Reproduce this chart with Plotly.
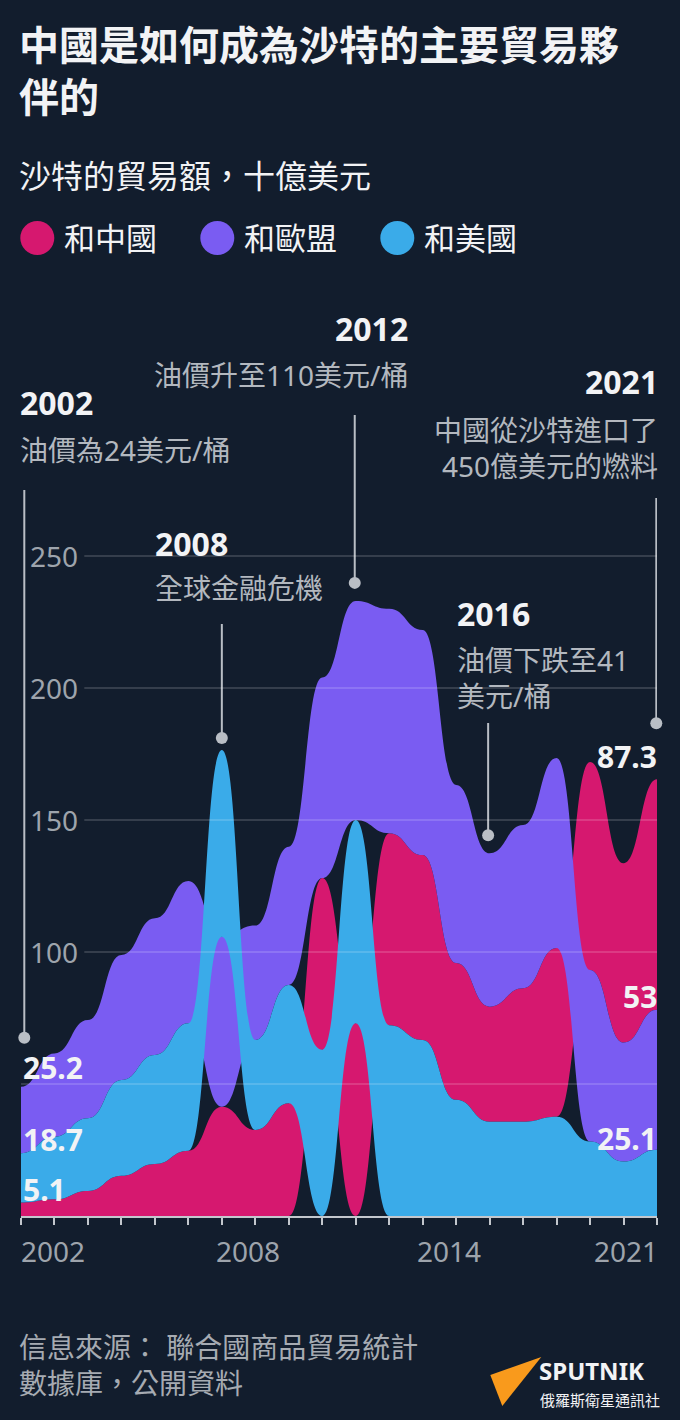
import plotly.graph_objects as go

# ---------------- data ----------------
years = list(range(2002, 2022))
china = [5.1, 6.3, 9.5, 15.2, 19.7, 24.7, 41.4, 32.6, 42.7, 65.0,
         73.0, 72.7, 70.0, 51.8, 43.6, 50.6, 63.9, 78.8, 67.9, 87.3]
eu = [25.2, 31.6, 37.2, 47.4, 51.8, 53.9, 64.4, 43.3, 52.4, 76.0,
      83.0, 85.0, 85.3, 67.5, 58.1, 61.8, 72.0, 65.0, 45.1, 53.0]
us = [18.7, 23.7, 27.5, 36.3, 41.3, 48.3, 70.7, 34.1, 44.8, 63.0,
      77.0, 72.3, 66.7, 44.0, 35.7, 35.7, 37.6, 28.2, 20.6, 25.1]
series_names = ["和中國", "和歐盟", "和美國"]
grid_values = [50, 100, 150, 200, 250]
labelled_grid = [100, 150, 200, 250]
xtick_labels = [2002, 2008, 2014, 2021]

events = [
    dict(year=2002, title="2002", text="油價為24美元/桶", side="left",
         tx=18, title_y=402, text_y=450, line_top=490, gap=49, dx=3.3),
    dict(year=2008, title="2008", text="全球金融危機", side="left",
         tx=153, title_y=543, text_y=588, line_top=624, gap=12, dx=0),
    dict(year=2012, title="2012", text="油價升至110美元/桶", side="right",
         tx=410, title_y=328, text_y=375, line_top=415, gap=18, dx=-1),
    dict(year=2016, title="2016", text="油價下跌至41<br>美元/桶", side="left",
         tx=455, title_y=613, text_y=677.5, line_top=723, gap=18, dx=-1.5),
    dict(year=2021, title="2021", text="中國從沙特進口了<br>450億美元的燃料", side="right",
         tx=660, title_y=382, text_y=448, line_top=498, gap=56, dx=-0.7),
]

# ---------------- style ----------------
BG = "#121d2d"
COLORS = ["#d6186f", "#7a5cf2", "#3aabe9"]
WHITE = "#f2f3f5"
GREY = "#b3b8bf"
AXGREY = "#9ea4ac"
FONT = "Noto Sans, Noto Sans CJK TC, sans-serif"

W, H = 680, 1420
PLOT_L, PLOT_R = 20.7, 656.7
ZERO_Y, PLOT_T = 1216.0, 280.0
PX_PER_UNIT = 2.64
PX_PER_YEAR = (PLOT_R - PLOT_L) / (years[-1] - years[0])
Y_TOP = (ZERO_Y - PLOT_T) / PX_PER_UNIT


def paper_x(px):
    return (px - PLOT_L) / (PLOT_R - PLOT_L)


def paper_y(py):
    return (ZERO_Y - py) / (ZERO_Y - PLOT_T)


def val_at(py):
    return (ZERO_Y - py) / PX_PER_UNIT


# ---------------- per-year ascending stacking ----------------
values = [china, eu, us]
n = len(years)
lower = [[0.0] * n for _ in values]
upper = [[0.0] * n for _ in values]
totals = [0.0] * n
for k in range(n):
    order = sorted(range(len(values)), key=lambda i: values[i][k])
    base = 0.0
    for i in order:
        lower[i][k] = base
        base += values[i][k]
        upper[i][k] = base
    totals[k] = base


def bump_band(xs, top, bot):
    p = [f"M {xs[0]},{top[0]:.3f}"]
    for k in range(1, len(xs)):
        m = (xs[k - 1] + xs[k]) / 2
        p.append(f"C {m},{top[k-1]:.3f} {m},{top[k]:.3f} {xs[k]},{top[k]:.3f}")
    p.append(f"L {xs[-1]},{bot[-1]:.3f}")
    for k in range(len(xs) - 1, 0, -1):
        m = (xs[k - 1] + xs[k]) / 2
        p.append(f"C {m},{bot[k]:.3f} {m},{bot[k-1]:.3f} {xs[k-1]},{bot[k-1]:.3f}")
    p.append("Z")
    return " ".join(p)


fig = go.Figure()
shapes = []
annotations = []

# bands (pink, purple, blue drawn in that order)
for i, col in enumerate(COLORS):
    shapes.append(dict(type="path", xref="x", yref="y", layer="below",
                       path=bump_band(years, upper[i], lower[i]),
                       fillcolor=col, line=dict(width=0)))
    fig.add_trace(go.Scatter(
        x=years, y=[(a + b) / 2 for a, b in zip(upper[i], lower[i])],
        mode="markers", marker=dict(opacity=0, color=col),
        name=series_names[i], showlegend=False,
        hovertext=[f"{series_names[i]} {y}: {v}" for y, v in zip(years, values[i])],
        hoverinfo="text"))

# gridlines on top of areas
for v in grid_values:
    x0 = paper_x(84) if v in labelled_grid else 0
    shapes.append(dict(type="line", xref="x domain", yref="y", x0=x0, x1=1,
                       y0=v, y1=v, layer="above",
                       line=dict(color="rgba(255,255,255,0.2)", width=1.5)))
for v in labelled_grid:
    annotations.append(dict(text=str(v), xref="paper", yref="y", x=paper_x(28),
                            y=v, xanchor="left", yanchor="middle", showarrow=False,
                            font=dict(size=28, color=AXGREY, family=FONT)))

# x tick labels
for yv in xtick_labels:
    if yv == years[0]:
        anc, sh = "left", -2
    elif yv == years[-1]:
        anc, sh = "right", 3
    else:
        anc, sh = "left", -8
    annotations.append(dict(text=str(yv), xref="x", yref="paper", x=yv, xshift=sh,
                            y=paper_y(1251), xanchor=anc, yanchor="middle",
                            showarrow=False,
                            font=dict(size=28, color=AXGREY, family=FONT)))

# end value labels
first_shift = {0: 13.5, 2: 14, 1: 18.7}
last_shift = {2: 11, 1: 13, 0: 23}
for i in range(3):
    annotations.append(dict(text=f"<b>{values[i][0]:g}</b>", xref="x", yref="y",
                            x=years[0], y=upper[i][0], xanchor="left", xshift=0,
                            yanchor="middle", yshift=first_shift[i], showarrow=False,
                            font=dict(size=30, color=WHITE, family=FONT)))
    annotations.append(dict(text=f"<b>{values[i][-1]:g}</b>", xref="x", yref="y",
                            x=years[-1], y=upper[i][-1], xanchor="right", xshift=2,
                            yanchor="middle", yshift=last_shift[i], showarrow=False,
                            font=dict(size=30, color=WHITE, family=FONT)))

# event leader lines, dots and texts
lx, ly, dx_, dy_ = [], [], [], []
for ev in events:
    k = years.index(ev["year"])
    xd = ev["year"] + ev["dx"] / PX_PER_YEAR
    ydot = totals[k] + ev["gap"] / PX_PER_UNIT
    lx += [xd, xd, None]
    ly += [ydot, val_at(ev["line_top"]), None]
    dx_.append(xd)
    dy_.append(ydot)
    annotations.append(dict(text=f"<b>{ev['title']}</b>", xref="paper", yref="paper",
                            x=paper_x(ev["tx"]), y=paper_y(ev["title_y"]),
                            xanchor=ev["side"], yanchor="middle", align=ev["side"],
                            showarrow=False,
                            font=dict(size=32, color=WHITE, family=FONT)))
    annotations.append(dict(text=ev["text"], xref="paper", yref="paper",
                            x=paper_x(ev["tx"]), y=paper_y(ev["text_y"]),
                            xanchor=ev["side"], yanchor="middle", align=ev["side"],
                            showarrow=False,
                            font=dict(size=28, color=GREY, family=FONT)))
fig.add_trace(go.Scatter(x=lx, y=ly, mode="lines", line=dict(color="#b9bec5", width=2),
                         hoverinfo="skip", showlegend=False, cliponaxis=False))
fig.add_trace(go.Scatter(x=dx_, y=dy_, mode="markers",
                         marker=dict(size=12, color="#b9bec5"),
                         hoverinfo="skip", showlegend=False, cliponaxis=False))

# title (one block, two lines), subtitle
annotations.append(dict(text="<b>中國是如何成為沙特的主要貿易夥<br>伴的</b>",
                        xref="paper", yref="paper", align="left",
                        x=paper_x(17), y=paper_y(71), xanchor="left", yanchor="middle",
                        showarrow=False, font=dict(size=40, color=WHITE, family=FONT)))
annotations.append(dict(text="沙特的貿易額，十億美元", xref="paper", yref="paper",
                        x=paper_x(17), y=paper_y(176), xanchor="left", yanchor="middle",
                        showarrow=False, font=dict(size=32, color=WHITE, family=FONT)))

# legend
legend_x = [20, 200, 380]
for i, name in enumerate(series_names):
    x0 = legend_x[i]
    shapes.append(dict(type="circle", xref="paper", yref="paper",
                       x0=paper_x(x0), x1=paper_x(x0 + 34),
                       y0=paper_y(255), y1=paper_y(221),
                       fillcolor=COLORS[i], line=dict(width=0), layer="above"))
    annotations.append(dict(text=name, xref="paper", yref="paper",
                            x=paper_x(x0 + 42), y=paper_y(238), xanchor="left",
                            yanchor="middle", showarrow=False,
                            font=dict(size=31, color=WHITE, family=FONT)))

# footer
annotations.append(dict(text="信息來源： 聯合國商品貿易統計<br>數據庫，公開資料",
                        xref="paper", yref="paper", x=paper_x(17), y=paper_y(1364.5),
                        xanchor="left", yanchor="middle", align="left", showarrow=False,
                        font=dict(size=28, color="#a6abb2", family=FONT)))
# sputnik logo
tri = [(490, 1375), (541, 1357), (502, 1406)]
path = "M " + " L ".join(f"{paper_x(a):.5f},{paper_y(b):.5f}" for a, b in tri) + " Z"
shapes.append(dict(type="path", xref="paper", yref="paper", path=path,
                   fillcolor="#f99a1c", line=dict(width=0), layer="above"))
annotations.append(dict(text="<b>SPUTNIK</b>", xref="paper", yref="paper",
                        x=paper_x(537), y=paper_y(1370), xanchor="left", yanchor="middle",
                        showarrow=False, font=dict(size=24, color=WHITE, family=FONT)))
annotations.append(dict(text="俄羅斯衛星通訊社", xref="paper", yref="paper",
                        x=paper_x(538), y=paper_y(1399.5), xanchor="left", yanchor="middle",
                        showarrow=False, font=dict(size=15, color=WHITE, family=FONT)))

fig.update_layout(
    width=W, height=H, autosize=False,
    margin=dict(l=PLOT_L, r=W - PLOT_R, t=PLOT_T, b=H - ZERO_Y, pad=0),
    paper_bgcolor=BG, plot_bgcolor=BG,
    showlegend=False,
    shapes=shapes, annotations=annotations,
    xaxis=dict(range=[years[0], years[-1]], showgrid=False, zeroline=False,
               showline=True, linecolor="#c3c7cd", linewidth=2,
               ticks="outside", ticklen=7, tickwidth=1.5, tickcolor="#c3c7cd",
               tick0=years[0], dtick=1, showticklabels=False, fixedrange=True),
    yaxis=dict(range=[0, Y_TOP], visible=False, fixedrange=True),
    font=dict(family=FONT),
)

fig.write_html("out.html", config={"displayModeBar": False},
               post_script="document.body.style.margin='0';document.body.style.background='%s';" % BG)
